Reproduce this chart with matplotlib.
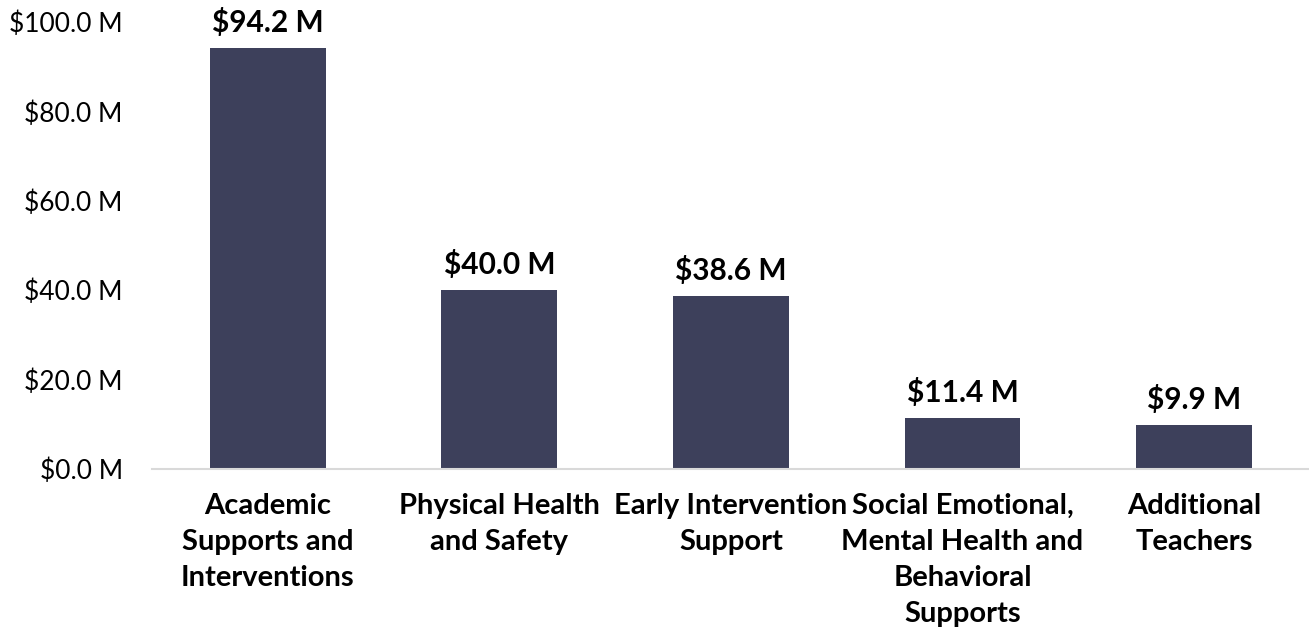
import matplotlib
matplotlib.use("Agg")
import matplotlib.pyplot as plt
from matplotlib.ticker import FuncFormatter

# Data (millions of dollars)
categories = [
    "Academic\nSupports and\nInterventions",
    "Physical Health\nand Safety",
    "Early Intervention\nSupport",
    "Social Emotional,\nMental Health and\nBehavioral\nSupports",
    "Additional\nTeachers",
]
amounts = [94.2, 40.0, 38.6, 11.4, 9.9]
y_ticks = [0, 20, 40, 60, 80, 100]

bar_color = "#3d405b"
font = ["Lato", "DejaVu Sans"]
plt.rcParams["font.family"] = font

fig = plt.figure(figsize=(13.09, 6.30), dpi=100)
ax = fig.add_axes([0.1161, 0.2556, 0.8845, 0.7095])

x = range(len(categories))
bars = ax.bar(x, amounts, width=0.5, color=bar_color, zorder=2)

# Value labels on top of the bars
for rect, val in zip(bars, amounts):
    ax.annotate(f"${val:.1f} M", (rect.get_x() + rect.get_width() / 2, val),
                xytext=(0, 8), textcoords="offset points",
                ha="center", va="bottom", fontsize=21.5, fontweight="bold",
                color="black")

ax.set_xlim(-0.5, len(categories) - 0.5)
ax.set_ylim(0, 100)
ax.set_yticks(y_ticks)
ax.yaxis.set_major_formatter(FuncFormatter(lambda v, p: f"${v:.1f} M"))
ax.set_xticks(list(x))
ax.set_xticklabels(categories, fontsize=21, fontweight="bold", linespacing=1.49)

ax.tick_params(axis="y", length=0, pad=21, labelsize=19)
ax.tick_params(axis="x", length=0, pad=17)
for lbl in ax.get_xticklabels():
    lbl.set_verticalalignment("top")

for side in ["top", "right", "left"]:
    ax.spines[side].set_visible(False)
ax.spines["bottom"].set_color("#d9d9d9")
ax.spines["bottom"].set_linewidth(1.5)

fig.savefig("out.png", dpi=100)
